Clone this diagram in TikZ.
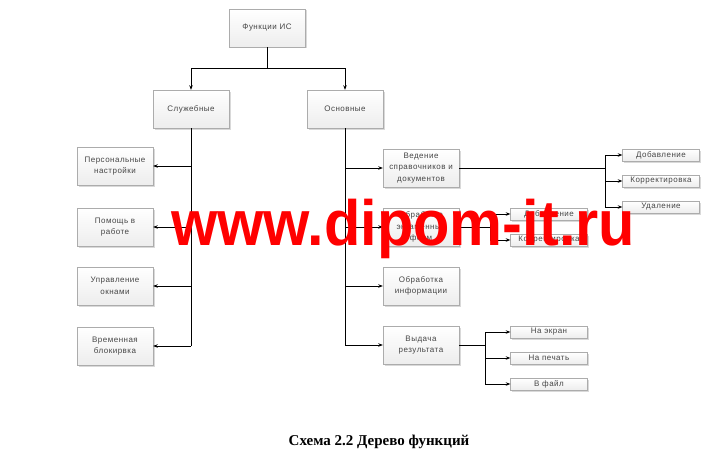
\documentclass[tikz,border=0pt]{standalone}
\usepackage{fontspec}
\setmainfont{Liberation Serif}
\newfontfamily\boxfont{Liberation Sans}[LetterSpace=6]
\newfontfamily\markfont{Liberation Sans}
\usetikzlibrary{arrows.meta, shadows}

\tikzset{
  fbox/.style={draw=gray!65, top color=white, bottom color=gray!14,
    drop shadow={shadow xshift=1.5pt, shadow yshift=-1.5pt, opacity=0.3},
    minimum width=76pt, minimum height=38pt, align=center, inner sep=1pt,
    font=\boxfont\fontsize{8}{11.5}\selectfont, text=gray!55!black},
  sbox/.style={fbox, minimum width=77pt, minimum height=12pt},
  link/.style={-{Stealth[length=4.5pt, width=3.5pt]}, line width=0.7pt},
  tie/.style={line width=0.7pt}
}

\begin{document}
\begin{tikzpicture}[x=1pt, y=-1pt]
  \useasboundingbox (0,0) rectangle (723,460);

  % top levels
  \node[fbox] (root) at (267,28) {Функции ИС};
  \node[fbox] (serv) at (191,109) {Служебные};
  \node[fbox] (main) at (345,109) {Основные};

  % left column
  \node[fbox] (pers) at (115,166) {Персональные\\настройки};
  \node[fbox] (help) at (115,227) {Помощь в\\работе};
  \node[fbox] (win)  at (115,286) {Управление\\окнами};
  \node[fbox] (blk)  at (115,346) {Временная\\блокирвка};

  % right column
  \node[fbox] (ved)  at (421,168) {Ведение\\справочников и\\документов};
  \node[fbox] (exam) at (421,227) {Обработка\\экзаменных\\форм};
  \node[fbox] (proc) at (421,286) {Обработка\\информации};
  \node[fbox] (out)  at (421,345) {Выдача\\результата};

  % leaves
  \node[sbox] (add)  at (661,155) {Добавление};
  \node[sbox] (corr) at (661,181) {Корректировка};
  \node[sbox] (del)  at (661,207) {Удаление};
  \node[sbox] (eadd) at (549,214) {Добавление};
  \node[sbox] (ecor) at (549,240) {Корректировка};
  \node[sbox] (scr)  at (549,332) {На экран};
  \node[sbox] (prn)  at (549,358) {На печать};
  \node[sbox] (fil)  at (549,384) {В файл};

  \coordinate (j0) at (267,68);
  \coordinate (vj) at (605,168);
  \coordinate (ej) at (490,227);
  \coordinate (oj) at (485,345);

  \draw[tie] (root) -- (j0);
  \draw[link] (j0) -| (serv);
  \draw[link] (j0) -| (main);

  \draw[tie] (serv.south) -- (serv.south |- blk);
  \foreach \n in {pers,help,win,blk}
    \draw[link] (serv.south |- \n) -- (\n);

  \draw[tie] (main.south) -- (main.south |- out);
  \foreach \n in {ved,exam,proc,out}
    \draw[link] (main.south |- \n) -- (\n);

  \draw[tie] (ved) -- (vj);
  \draw[tie] (vj |- add) -- (vj |- del);
  \foreach \n in {add,corr,del}
    \draw[link] (vj |- \n) -- (\n);

  \draw[tie] (exam) -- (ej);
  \draw[tie] (ej |- eadd) -- (ej |- ecor);
  \foreach \n in {eadd,ecor}
    \draw[link] (ej |- \n) -- (\n);

  \draw[tie] (out) -- (oj);
  \draw[tie] (oj |- scr) -- (oj |- fil);
  \foreach \n in {scr,prn,fil}
    \draw[link] (oj |- \n) -- (\n);

  % caption
  \node[font=\bfseries\fontsize{15}{18}\selectfont] (cap) at (379,442) {Схема 2.2 Дерево функций};

  % watermark
  \node[anchor=base, text=red, inner sep=0pt, xscale=0.93,
    font=\markfont\bfseries\fontsize{64}{70}\selectfont] (mark) at (403,245) {www.dipom-it.ru};
\end{tikzpicture}
\end{document}
